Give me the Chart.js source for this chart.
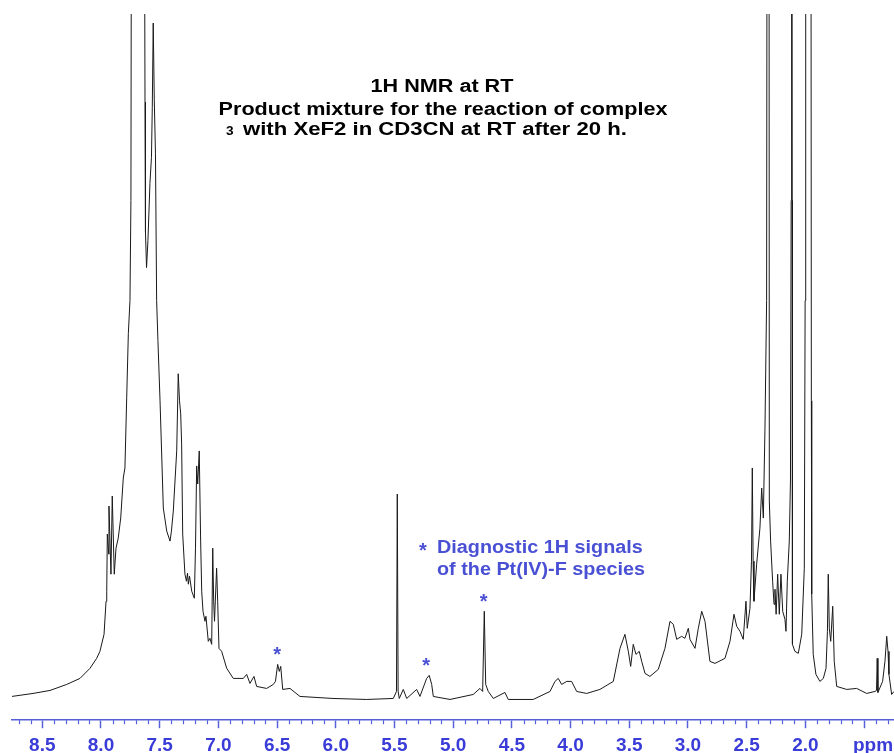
<!DOCTYPE html>
<html>
<head>
<meta charset="utf-8">
<title>1H NMR - product mixture</title>
<script src="https://cdn.jsdelivr.net/npm/chart.js@4.4.1/dist/chart.umd.min.js"></script>
<style>
  html, body { margin: 0; padding: 0; background: #fff; }
  canvas { display: block; }
</style>
</head>
<body>
<canvas id="nmr" width="894" height="753"></canvas>
<script>
// chemical shift (ppm) and intensity (arb. units) of the trace
const shifts = [
  8.760, 8.579, 8.434, 8.292, 8.179, 8.094, 8.037, 8.009, 7.974, 7.957,
  7.951, 7.946, 7.934, 7.932, 7.915, 7.904, 7.887, 7.872, 7.853, 7.832,
  7.810, 7.796, 7.781, 7.767, 7.753, 7.745, 7.737, 7.685, 7.634, 7.625,
  7.621, 7.612, 7.600, 7.583, 7.570, 7.563, 7.555, 7.546, 7.536, 7.526,
  7.515, 7.497, 7.469, 7.440, 7.412, 7.400, 7.384, 7.355, 7.342, 7.331,
  7.321, 7.313, 7.304, 7.285, 7.272, 7.263, 7.256, 7.246, 7.227, 7.205,
  7.195, 7.185, 7.176, 7.163, 7.151, 7.142, 7.131, 7.114, 7.106, 7.086,
  7.072, 7.057, 7.048, 7.040, 7.033, 7.015, 7.006, 6.995, 6.972, 6.929,
  6.873, 6.788, 6.759, 6.731, 6.697, 6.674, 6.589, 6.532, 6.514, 6.495,
  6.481, 6.469, 6.452, 6.390, 6.305, 6.024, 5.737, 5.510, 5.483, 5.476,
  5.469, 5.459, 5.425, 5.396, 5.311, 5.283, 5.226, 5.204, 5.183, 5.169,
  5.027, 4.829, 4.772, 4.749, 4.735, 4.723, 4.701, 4.658, 4.559, 4.531,
  4.318, 4.175, 4.133, 4.105, 4.076, 4.033, 3.991, 3.948, 3.863, 3.750,
  3.636, 3.579, 3.537, 3.508, 3.488, 3.466, 3.443, 3.415, 3.394, 3.366,
  3.324, 3.253, 3.196, 3.153, 3.125, 3.096, 3.054, 3.026, 2.997, 2.983,
  2.940, 2.912, 2.883, 2.855, 2.813, 2.770, 2.685, 2.642, 2.608, 2.585,
  2.557, 2.529, 2.506, 2.495, 2.472, 2.459, 2.452, 2.445, 2.438, 2.415,
  2.387, 2.372, 2.358, 2.344, 2.330, 2.325, 2.316, 2.310, 2.307, 2.296,
  2.279, 2.267, 2.259, 2.249, 2.236, 2.222, 2.208, 2.193, 2.174, 2.165,
  2.154, 2.137, 2.127, 2.121, 2.117, 2.112, 2.110, 2.089, 2.060, 2.031,
  2.009, 2.002, 1.997, 1.978, 1.955, 1.949, 1.946, 1.933, 1.910, 1.876,
  1.847, 1.824, 1.812, 1.805, 1.796, 1.784, 1.767, 1.754, 1.733, 1.648,
  1.563, 1.478, 1.407, 1.394, 1.388, 1.382, 1.342, 1.322, 1.307, 1.296,
  1.288, 1.265, 1.245
];
const intensities = [
  -0.3, 0.0, 0.3, 0.9, 1.5, 2.5, 3.5, 4.2, 5.9, 9.2,
  10.2, 15.9, 13.9, 18.7, 11.9, 19.7, 11.9, 14.5, 15.5, 17.5,
  21.5, 22.5, 29.5, 35.9, 39.2, 49.2, 110, 130, 100, 59,
  46, 42.5, 45.2, 50.9, 53.5, 58.5, 66.9, 59.2, 53.9, 39.2,
  35.2, 29.2, 18.5, 16.2, 15.2, 16.2, 18.2, 24.2, 31.9, 29.2,
  27.9, 24.9, 15.9, 11.9, 11.2, 12.0, 10.9, 11.7, 10.2, 9.5,
  14.5, 22.7, 20.9, 24.2, 15.2, 10.2, 8.2, 7.2, 7.7, 5.2,
  5.5, 4.9, 14.5, 9.2, 7.2, 12.5, 9.2, 4.5, 4.2, 2.5,
  1.5, 1.5, 1.9, 1.0, 1.7, 0.7, 0.5, 0.9, 1.2, 2.9,
  2.2, 2.7, 0.4, 0.5, -0.3, -0.5, -0.6, -0.5, 0.2, 19.9,
  0.2, -0.5, 0.4, -0.5, 0.4, -0.3, 1.5, 1.8, 0.9, -0.3,
  -0.6, -0.1, 0.5, 0.2, 8.2, 0.9, 0.2, -0.5, 0.1, -0.6,
  -0.6, 0.2, 1.2, 1.5, 0.9, 1.2, 1.2, 0.2, 0.0, 0.4,
  1.2, 4.5, 5.9, 4.2, 2.7, 4.9, 3.9, 4.2, 3.2, 2.0,
  1.7, 2.4, 4.5, 7.2, 6.9, 5.4, 5.7, 5.5, 6.5, 5.4,
  4.5, 6.5, 8.2, 7.2, 3.2, 3.0, 3.5, 5.2, 7.9, 6.7,
  6.2, 5.4, 9.2, 6.5, 8.5, 13.2, 22.5, 13.2, 9.2, 12.9,
  16.5, 20.5, 17.5, 26.5, 39.2, 100, 140, 100, 19.2, 15.2,
  11.2, 8.9, 10.4, 7.9, 11.9, 7.9, 11.9, 8.2, 7.4, 6.2,
  11.2, 15.2, 21.2, 49.2, 150, 49.2, 4.9, 4.2, 4.0, 5.9,
  12.5, 39.2, 130, 90, 130, 29.2, 9.9, 3.9, 1.9, 1.2,
  1.5, 2.5, 6.2, 11.9, 6.5, 5.2, 8.7, 3.2, 0.7, 0.4,
  0.5, 0.0, 0.2, 0.3, 3.5, 0.1, 1.2, 3.2, 5.7, 4.2,
  1.9, -0.1, 0.2
];

// axis
const majorTicks = [8.5, 8.0, 7.5, 7.0, 6.5, 6.0, 5.5, 5.0, 4.5, 4.0, 3.5, 3.0, 2.5, 2.0, 1.5];
const tickLabels = ['8.5', '8.0', '7.5', '7.0', '6.5', '6.0', '5.5', '5.0', '4.5', '4.0', '3.5', '3.0', '2.5', '2.0', ''];
const unitLabel = 'ppm';

// signals flagged with an asterisk
const starShifts = [6.50, 5.23, 4.74];
const starHeights = [2.9, 1.8, 8.2];

const titleLines = ['1H NMR at RT', 'Product mixture for the reaction of complex', 'with XeF2 in CD3CN at RT after 20 h.'];
const complexNo = '3';
const noteLines = ['Diagnostic 1H signals', 'of the Pt(IV)-F species'];

const BLUE = '#3a3cd8';
const AXIS_BLUE = '#5560d8';
const NOTE_BLUE = '#4a50d4';
const FONT = "'Liberation Sans', Arial, Helvetica, sans-serif";

function stretchText(ctx, text, x, y, sx, align) {
  ctx.save();
  ctx.translate(x, y);
  ctx.scale(sx, 1);
  ctx.textAlign = align;
  ctx.fillText(text, 0, 0);
  ctx.restore();
}

const decorations = {
  id: 'decorations',
  afterDraw(chart) {
    const ctx = chart.ctx;
    const xs = chart.scales.x;
    const ys = chart.scales.y;
    const bottom = chart.chartArea.bottom;

    // short minor ticks every 0.1 ppm
    ctx.save();
    ctx.strokeStyle = AXIS_BLUE;
    ctx.lineWidth = 1.2;
    for (let i = 87; i >= 13; i--) {
      if (i % 5 === 0) continue;
      const px = Math.round(xs.getPixelForValue(i / 10)) + 0.5;
      ctx.beginPath();
      ctx.moveTo(px, bottom);
      ctx.lineTo(px, bottom + 4);
      ctx.stroke();
    }
    ctx.restore();

    ctx.save();
    ctx.textBaseline = 'alphabetic';

    // unit label next to the last major tick
    ctx.fillStyle = BLUE;
    ctx.font = 'bold 19px ' + FONT;
    stretchText(ctx, unitLabel, xs.getPixelForValue(1.5) + 9, 751, 1, 'center');

    // title block
    ctx.fillStyle = '#000';
    ctx.font = 'bold 18px ' + FONT;
    stretchText(ctx, titleLines[0], 442, 92, 1.2, 'center');
    stretchText(ctx, titleLines[1], 443, 115, 1.2, 'center');
    stretchText(ctx, titleLines[2], 243, 135, 1.23, 'left');
    ctx.font = 'bold 13px ' + FONT;
    stretchText(ctx, complexNo, 226, 135, 1.05, 'left');

    // note on the diagnostic signals
    ctx.fillStyle = NOTE_BLUE;
    ctx.font = 'bold 18px ' + FONT;
    stretchText(ctx, noteLines[0], 437, 553, 1.1, 'left');
    stretchText(ctx, noteLines[1], 437, 575, 1.1, 'left');
    ctx.font = 'bold 20px ' + FONT;
    stretchText(ctx, '*', 423, 557, 1, 'center');

    // asterisks above the flagged peaks
    starShifts.forEach((s, i) => {
      const px = xs.getPixelForValue(s);
      const py = ys.getPixelForValue(starHeights[i]);
      stretchText(ctx, '*', px, py - 3, 1, 'center');
    });
    ctx.restore();
  }
};

new Chart(document.getElementById('nmr'), {
  type: 'line',
  data: {
    datasets: [{
      data: shifts.map((s, i) => ({ x: s, y: intensities[i] })),
      borderColor: '#1a1a1a',
      borderWidth: 1,
      pointRadius: 0,
      tension: 0,
      fill: false
    }]
  },
  options: {
    responsive: false,
    devicePixelRatio: 1,
    animation: false,
    layout: { padding: { left: 12, right: 0, top: 14, bottom: -10 } },
    plugins: { legend: { display: false }, tooltip: { enabled: false } },
    scales: {
      x: {
        type: 'linear',
        reverse: true,
        min: 1.245,
        max: 8.758,
        afterBuildTicks: (scale) => { scale.ticks = majorTicks.map(v => ({ value: v })); },
        border: { display: true, color: AXIS_BLUE, width: 1.5 },
        grid: { display: true, drawOnChartArea: false, drawTicks: true, tickLength: 8, tickColor: AXIS_BLUE, tickWidth: 1.5 },
        ticks: {
          autoSkip: false,
          maxRotation: 0,
          padding: 6,
          color: BLUE,
          font: { family: FONT, weight: 'bold', size: 19 },
          callback: (v, i) => tickLabels[i]
        }
      },
      y: { display: false, min: -2.67, max: 67.8 }
    }
  },
  plugins: [decorations]
});
</script>
</body>
</html>
